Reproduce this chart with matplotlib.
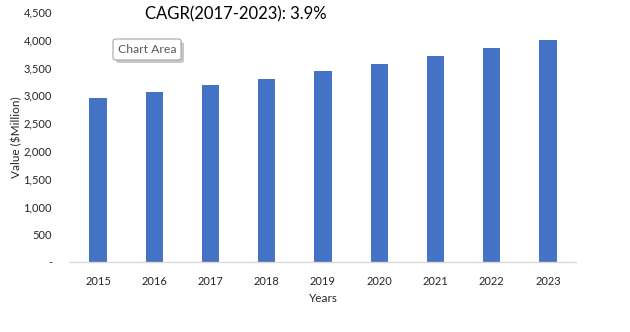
import matplotlib.pyplot as plt
import numpy as np
from matplotlib.patches import FancyBboxPatch

years = ['2015', '2016', '2017', '2018', '2019', '2020', '2021', '2022', '2023']
values = [2950, 3058, 3185, 3293, 3443, 3564, 3708, 3852, 3996]
y_ticks = [0, 500, 1000, 1500, 2000, 2500, 3000, 3500, 4000, 4500]
y_tick_labels = ['-', '500', '1,000', '1,500', '2,000', '2,500', '3,000', '3,500', '4,000', '4,500']

plt.rcParams['font.family'] = ['Lato', 'DejaVu Sans']

fig = plt.figure(figsize=(6.3, 3.32), dpi=100)
ax = fig.add_axes([70 / 630, 1 - 262 / 332, 506 / 630, 250 / 332])

x = np.arange(len(years))
ax.bar(x, values, width=0.31, color='#4472C4', zorder=2)

ax.set_xlim(-0.5, len(years) - 0.5)
ax.set_ylim(0, 4500)
ax.set_xticks(x)
ax.set_xticklabels(years, fontsize=8, color='#262626')
ax.set_yticks(y_ticks)
ax.set_yticklabels(y_tick_labels, fontsize=8, color='#262626')
ax.tick_params(axis='x', length=0, pad=10)
ax.tick_params(axis='y', length=0, pad=13)

for side in ['top', 'right', 'left']:
    ax.spines[side].set_visible(False)
ax.spines['bottom'].set_color('#D9D9D9')
ax.spines['bottom'].set_linewidth(1)

ax.set_xlabel('Years', fontsize=8.5, color='#262626')
ax.xaxis.set_label_coords(0.5, -31 / 250)
ax.set_ylabel('Value ($Million)', fontsize=8.5, color='#262626')
ax.yaxis.set_label_coords(-48 / 506, 0.5)

fig.text(145 / 630, 1 - 14 / 332, 'CAGR(2017-2023): 3.9%', fontsize=12,
         color='#000000', va='center', ha='left')

# excel tooltip left in the screenshot
shadow = FancyBboxPatch((116 / 630, 1 - 63 / 332), 68 / 630, 21 / 332,
                        boxstyle='round,pad=0,rounding_size=0.006',
                        transform=fig.transFigure, fc='#C8C8C8', ec='none')
box = FancyBboxPatch((113 / 630, 1 - 60 / 332), 68 / 630, 21 / 332,
                     boxstyle='round,pad=0,rounding_size=0.006',
                     transform=fig.transFigure, fc='white', ec='#A6A6A6', lw=0.8)
fig.patches.extend([shadow, box])
fig.text(147 / 630, 1 - 49.5 / 332, 'Chart Area', fontsize=8.8, color='#595959',
         va='center', ha='center')

fig.savefig('out.png', dpi=100)
